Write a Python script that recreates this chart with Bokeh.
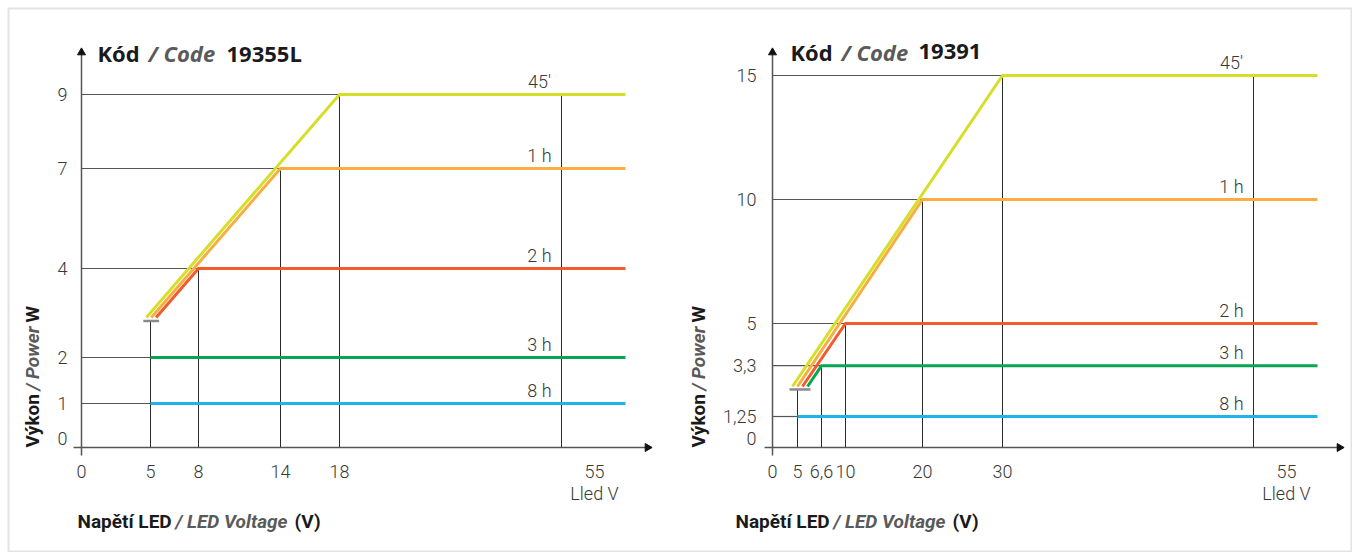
import numpy as np
from bokeh.plotting import figure
from bokeh.models import Range1d
from bokeh.core.properties import value
from bokeh.embed import file_html
from bokeh.resources import INLINE

# ------------------------------------------------------------------ data
SERIES_NAMES = ["45′", "1 h", "2 h", "3 h", "8 h"]
SERIES_COLORS = ["#d5df29", "#f9ad45", "#f25c2c", "#05a551", "#1db4ec"]

# chart A : Kód / Code 19355L
A_CODE = "19355L"
A_POWER_W = [9, 7, 4, 2, 1]
A_CORNER_V = [18, 14, 8, 5, 5]
A_START_V = [4.7, 5.05, 5.35, 5, 5]
A_START_W = [2.9, 2.9, 2.9, 2, 1]
A_MIN_V, A_MIN_W = 5, 2.82
A_MAX_V = 55
A_V_END = 65
A_X_TICKS = [0, 5, 8, 14, 18]
A_X_TICK_LABELS = ["0", "5", "8", "14", "18"]
A_Y_TICKS = [1, 2, 4, 7, 9]
A_Y_TICK_LABELS = ["1", "2", "4", "7", "9"]

# chart B : Kód / Code 19391
B_CODE = "19391"
B_POWER_W = [15, 10, 5, 3.3, 1.25]
B_CORNER_V = [30, 20, 10, 6.6, 5]
B_START_V = [4.0, 5.0, 5.33, 5.67, 5]
B_START_W = [2.46, 2.46, 2.46, 2.46, 1.25]
B_MIN_V, B_MIN_W = 5, 2.34
B_MAX_V = 55
B_V_END = 61.4
B_X_TICKS = [0, 5, 6.6, 10, 20, 30]
B_X_TICK_LABELS = ["0", "5", "6,6", "10", "20", "30"]
B_Y_TICKS = [1.25, 3.3, 5, 10, 15]
B_Y_TICK_LABELS = ["1,25", "3,3", "5", "10", "15"]

MAX_LABEL = "55"
UNIT_LABEL = "Lled V"
X_TITLE = ["Napětí LED", "/ LED Voltage", "(V)"]
Y_TITLE = ["Výkon", "/ Power", "W"]
TITLE = ["Kód", "/ Code"]

# ------------------------------------------------------------------ layout (schematic, non-proportional axes)
LAYOUT_A = dict(
    x_knots=([0, 5, 8, 14, 18, 55, A_V_END], [81, 150, 198, 280, 339, 561, 625]),
    y_knots=([0, 1, 2, 4, 7, 9], [447, 403, 357, 268, 168, 94]),
    axis_x_end=651, axis_top=48, ylab_right=67, ytitle_x=32,
    ytitle_y=[447, 390, 322], title_x=[97, 148, 226], title_y=52,
    xtitle_x=[77, 175, 294], xtitle_y=521,
)
LAYOUT_B = dict(
    x_knots=([0, 5, 6.6, 10, 20, 30, 55, B_V_END], [772, 797, 821, 845, 922, 1002, 1253, 1317]),
    y_knots=([0, 15], [447, 75]),
    axis_x_end=1343, axis_top=48, ylab_right=756, ytitle_x=698,
    ytitle_y=[447, 390, 322], title_x=[790, 841, 918], title_y=51,
    xtitle_x=[735, 833, 952], xtitle_y=521,
)

PAD = 8
W, H = 1344, 544
p = figure(width=W + PAD, height=H + PAD, x_range=Range1d(PAD, PAD + W), y_range=Range1d(PAD + H, PAD),
           output_backend="svg", toolbar_location=None, min_border=0,
           min_border_left=PAD, min_border_top=PAD,
           x_axis_location=None, y_axis_location=None,
           outline_line_color="#e3e3e3", outline_line_width=2,
           background_fill_color="white", border_fill_color="white")
p.grid.visible = False

TICK_FONT = value("Roboto Light")
BOLD_FONT = value("Roboto")
TITLE_FONT = value("Open Sans")
TXT = "#383838"


def mk_scale(knots):
    kv = np.asarray(knots[0], float)
    kp = np.asarray(knots[1], float)
    return lambda v: np.interp(np.asarray(v, float), kv, kp)


def draw_chart(L, code, power, corner, start_v, start_w, min_v, min_w, max_v, v_end,
               xt, xtl, yt, ytl):
    sx = mk_scale(L["x_knots"])
    sy = mk_scale(L["y_knots"])
    x0, y0 = float(sx(0)), float(sy(0))

    # horizontal guide lines (axis -> corner)
    p.segment(x0=[x0] * len(power), y0=list(sy(power)), x1=list(sx(corner)), y1=list(sy(power)),
              line_color="#555555", line_width=1.2)
    # vertical guide lines (corner -> axis)
    ramp = [i for i in range(len(power)) if start_v[i] != corner[i] or start_w[i] != power[i]]
    vx = [float(sx(corner[i])) for i in ramp] + [float(sx(max_v))]
    vt = [float(sy(power[i])) for i in ramp] + [float(sy(max(power)))]
    p.segment(x0=vx, y0=vt, x1=vx, y1=[y0] * len(vx), line_color="#2a2a2a", line_width=1)
    # minimum voltage marker
    p.segment(x0=[float(sx(min_v))], y0=[float(sy(min_w))], x1=[float(sx(min_v))], y1=[y0],
              line_color="#2a2a2a", line_width=1)
    p.segment(x0=[float(sx(min(start_v))) - 3], y0=[float(sy(min_w))],
              x1=[float(sx(max(start_v))) + 3], y1=[float(sy(min_w))],
              line_color="#8a8a8a", line_width=2.5)

    # axes
    p.segment(x0=[x0], y0=[y0 + 8], x1=[x0], y1=[L["axis_top"] + 4], line_color="#555555", line_width=1.5)
    p.segment(x0=[x0 - 8], y0=[y0], x1=[L["axis_x_end"] - 4], y1=[y0], line_color="#555555", line_width=1.5)
    p.scatter(x=[x0], y=[L["axis_top"] + 4], marker="triangle", size=8, fill_color="#111", line_color="#111")
    p.scatter(x=[L["axis_x_end"] - 4], y=[y0], marker="triangle", size=8, angle=-np.pi / 2,
              fill_color="#111", line_color="#111")

    # series
    xs, ys = [], []
    for i in range(len(power)):
        xs.append(list(sx([start_v[i], corner[i], v_end])))
        ys.append(list(sy([start_w[i], power[i], power[i]])))
    p.multi_line(xs=xs, ys=ys, line_color=SERIES_COLORS, line_width=3, line_join="miter")

    # series labels (placed just above each line, left of the 55 V guide)
    n = len(power)
    p.text(x=list(sx([max_v] * n) - 22), y=list(sy(power) - 13), text=SERIES_NAMES,
           text_align="center", text_baseline="middle", text_font=TICK_FONT,
           text_font_size="18px", text_color=TXT)

    # tick labels
    p.text(x=list(sx(xt)), y=[y0 + 24] * len(xt), text=xtl, text_align="center", text_baseline="middle",
           text_font=TICK_FONT, text_font_size="18px", text_color=TXT)
    p.text(x=[float(sx(max_v)) + 33] * 2, y=[y0 + 24, y0 + 46], text=[MAX_LABEL, UNIT_LABEL],
           text_align="center", text_baseline="middle", text_font=TICK_FONT,
           text_font_size="18px", text_color=TXT)
    p.text(x=[L["ylab_right"]] * len(yt), y=list(sy(yt)), text=ytl, text_align="right",
           text_baseline="middle", text_font=TICK_FONT, text_font_size="18px", text_color=TXT)
    p.text(x=[L["ylab_right"]], y=[y0 - 9], text=["0"], text_align="right", text_baseline="middle",
           text_font=TICK_FONT, text_font_size="18px", text_color=TXT)

    # title
    tx, ty = L["title_x"], L["title_y"]
    p.text(x=[tx[0], tx[2]], y=[ty, ty], text=[TITLE[0], code], text_align="left", text_baseline="middle",
           text_font=TITLE_FONT, text_font_style="bold", text_font_size="22px", text_color="#1a1a1a")
    p.text(x=[tx[1]], y=[ty], text=[TITLE[1]], text_align="left", text_baseline="middle",
           text_font=TITLE_FONT, text_font_style="bold italic", text_font_size="22px", text_color="#5a5a5a")

    # x title
    xx, xy = L["xtitle_x"], L["xtitle_y"]
    p.text(x=[xx[0], xx[2]], y=[xy, xy], text=[X_TITLE[0], X_TITLE[2]], text_align="left",
           text_baseline="middle", text_font=BOLD_FONT, text_font_style="bold", text_font_size="19px",
           text_color="#1a1a1a")
    p.text(x=[xx[1]], y=[xy], text=[X_TITLE[1]], text_align="left", text_baseline="middle",
           text_font=BOLD_FONT, text_font_style="bold italic", text_font_size="19px", text_color="#5a5a5a")

    # y title (rotated)
    yx, yy = L["ytitle_x"], L["ytitle_y"]
    p.text(x=[yx, yx], y=[yy[0], yy[2]], text=[Y_TITLE[0], Y_TITLE[2]], angle=np.pi / 2,
           text_align="left", text_baseline="middle", text_font=BOLD_FONT, text_font_style="bold",
           text_font_size="19px", text_color="#1a1a1a")
    p.text(x=[yx], y=[yy[1]], text=[Y_TITLE[1]], angle=np.pi / 2, text_align="left",
           text_baseline="middle", text_font=BOLD_FONT, text_font_style="bold italic",
           text_font_size="19px", text_color="#5a5a5a")


draw_chart(LAYOUT_A, A_CODE, A_POWER_W, A_CORNER_V, A_START_V, A_START_W, A_MIN_V, A_MIN_W,
           A_MAX_V, A_V_END, A_X_TICKS, A_X_TICK_LABELS, A_Y_TICKS, A_Y_TICK_LABELS)
draw_chart(LAYOUT_B, B_CODE, B_POWER_W, B_CORNER_V, B_START_V, B_START_W, B_MIN_V, B_MIN_W,
           B_MAX_V, B_V_END, B_X_TICKS, B_X_TICK_LABELS, B_Y_TICKS, B_Y_TICK_LABELS)

open("out.html", "w").write(file_html(p, INLINE))
